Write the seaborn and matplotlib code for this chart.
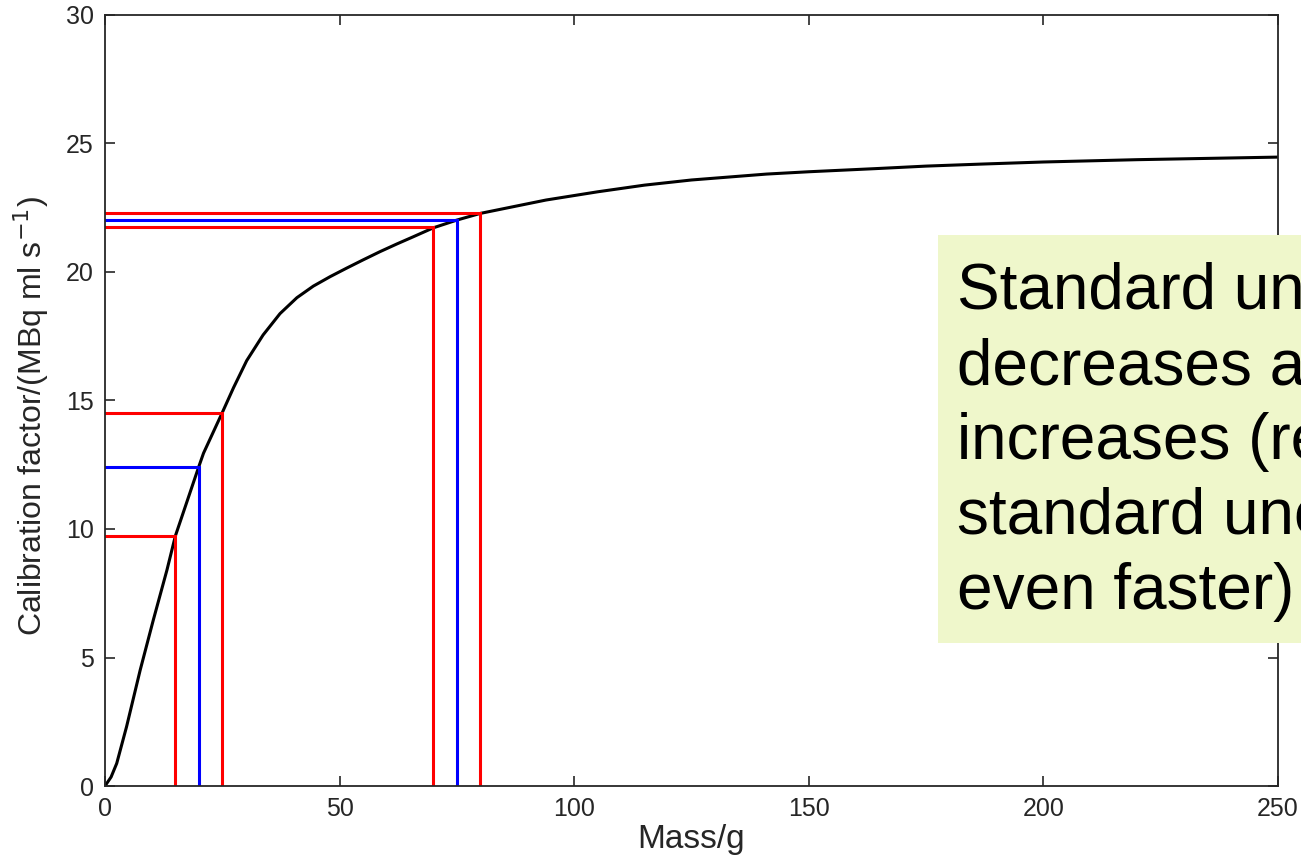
import numpy as np
import pandas as pd
import matplotlib
import matplotlib.pyplot as plt
import seaborn as sns
from matplotlib.patches import Rectangle

matplotlib.use("Agg")

# Calibration curve
mass = [0, 1.3, 2.5, 4.6, 7.5, 10.3, 13.2, 15, 20, 21, 25, 27.4, 30.2, 33.7,
        37.3, 40.9, 44.4, 48, 51.5, 55, 58.6, 62.2, 65.7, 70, 75, 80, 87,
        94, 105, 115, 125, 141, 150, 164, 175, 187, 200, 220, 235, 250]
factor = [0, 0.35, 0.88, 2.31, 4.51, 6.46, 8.4, 9.73, 12.43, 12.95, 14.53,
          15.5, 16.55, 17.55, 18.38, 19.0, 19.45, 19.82, 20.15, 20.47, 20.79,
          21.09, 21.37, 21.72, 22.02, 22.28, 22.54, 22.8, 23.12, 23.38, 23.58,
          23.81, 23.9, 24.02, 24.12, 24.2, 24.28, 24.37, 24.42, 24.47]

# Read-off guides: mass -> calibration factor
guide_mass = [15, 20, 25, 70, 75, 80]
guide_factor = [9.73, 12.43, 14.53, 21.74, 22.02, 22.28]
guide_color = ["red", "blue", "red", "red", "blue", "red"]

note_lines = ["Standard uncertainty", "decreases as mass",
              "increases (relative", "standard uncertainty",
              "even faster)"]

sns.set_style("ticks")
plt.rcParams['font.family'] = ['Liberation Sans', 'DejaVu Sans']

fig = plt.figure(figsize=(13.01, 8.61), dpi=100)
ax = fig.add_axes([0.0807, 0.0871, 0.9016, 0.8955])

curve = pd.DataFrame({"Mass": mass, "Factor": factor})
sns.lineplot(data=curve, x="Mass", y="Factor", color="black", lw=2.2, ax=ax)

for m, f, c in zip(guide_mass, guide_factor, guide_color):
    ax.plot([m, m, 0], [0, f, f], color=c, lw=2.2, solid_joinstyle="miter")

ax.set_xlim(0, 250)
ax.set_ylim(0, 30)
ax.set_xticks([0, 50, 100, 150, 200, 250])
ax.set_yticks([0, 5, 10, 15, 20, 25, 30])

for s in ax.spines.values():
    s.set_visible(True)
    s.set_color("#262626")
    s.set_linewidth(1.3)

ax.tick_params(direction="in", length=7, width=1.2, color="#262626",
               labelsize=18, labelcolor="#262626", top=True, right=True,
               pad=8)
ax.set_xlabel("Mass/g", fontsize=24, color="#262626", labelpad=2)
ax.set_ylabel("Calibration factor/(MBq ml s$^{-1}$)", fontsize=23,
              color="#262626", labelpad=4)
ax.yaxis.set_label_coords(-0.046, 0.48)

# note box running off the right edge of the figure
fig.patches.append(Rectangle((938 / 1301, 1 - 643 / 861), 0.4, (643 - 235) / 861,
                             transform=fig.transFigure, facecolor="#EFF7CB",
                             edgecolor="none", zorder=5))
fig.text(957 / 1301, 1 - 262 / 861, "\n".join(note_lines), fontsize=46,
         ha="left", va="top", color="black", linespacing=1.32, zorder=6)

fig.savefig("out.png", dpi=100)
